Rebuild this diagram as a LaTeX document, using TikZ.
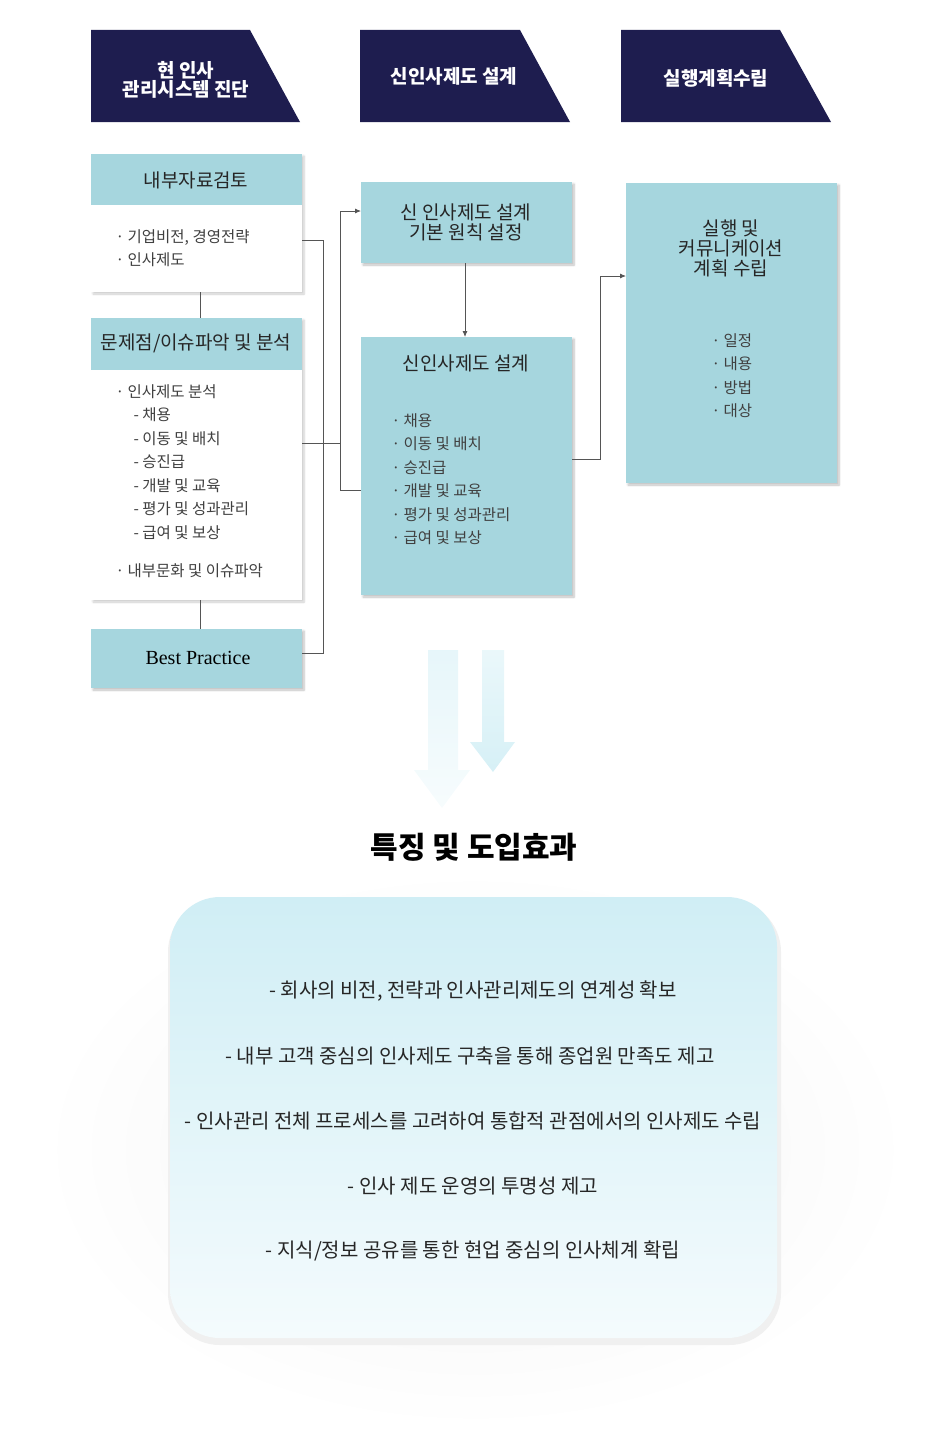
\documentclass[tikz,border=0pt]{standalone}
\usepackage{fontspec}
\setmainfont{Noto Sans CJK KR}
\newfontfamily\latinserif{Liberation Serif}
\usetikzlibrary{shadows.blur,arrows.meta,fadings}
\definecolor{navy}{HTML}{1E1D4F}
\definecolor{teal}{HTML}{A6D6DE}
\definecolor{lineg}{HTML}{555555}
\definecolor{efftop}{HTML}{D0EEF5}
\definecolor{effbot}{HTML}{F4FBFD}
\definecolor{arrc}{HTML}{D6F0F6}
\tikzset{
 hdr/.style={fill=navy,draw=none},
 hdrtxt/.style={text=white,font=\fontsize{19}{23}\selectfont\bfseries\itshape,align=center},
 tealbox/.style={fill=teal,draw=none,blur shadow={shadow blur steps=6,shadow xshift=2pt,shadow yshift=-2pt,shadow opacity=25}},
 whitebox/.style={fill=white,draw=none,blur shadow={shadow blur steps=6,shadow xshift=2pt,shadow yshift=-2pt,shadow opacity=20}},
 ttl/.style={font=\fontsize{19}{21}\selectfont,align=center,text=black!85},
 body/.style={font=\fontsize{15.5}{23.5}\selectfont,align=left,text=black!75,anchor=north west},
 conn/.style={draw=lineg,line width=0.8pt},
 arr/.style={conn,-{Latex[length=6pt,width=5pt]}},
 eff/.style={font=\fontsize{20}{22}\selectfont,text=black!85}
}
\begin{document}
\begin{tikzpicture}[x=1pt,y=-1pt]
\useasboundingbox (0,0) rectangle (948,1429);
% headers
\fill[hdr] (91,30)--(250,30)--(300,122)--(91,122)--cycle;
\fill[hdr] (360,30)--(520,30)--(570,122)--(360,122)--cycle;
\fill[hdr] (621,30)--(780,30)--(831,122)--(621,122)--cycle;
\node[hdrtxt] (h1) at (186,80) {현 인사\\[-4pt]관리시스템 진단};
\node[hdrtxt] (h2) at (454,76) {신인사제도 설계};
\node[hdrtxt] (h3) at (716,78) {실행계획수립};
% left column
\path[whitebox] (91,154) rectangle (302,292);
\path[fill=teal] (91,154) rectangle (302,205);
\node[ttl] (t1) at (196,180) {내부자료검토};
\node[body] (b1) at (112,226) {· 기업비전, 경영전략\\· 인사제도};
\coordinate (b1r) at (302,240);
\path[whitebox] (91,318) rectangle (302,600);
\path[fill=teal] (91,318) rectangle (302,370);
\node[ttl] (t2) at (196,343) {문제점/이슈파악 및 분석};
\node[body] (b2) at (112,381) {· 인사제도 분석\\\hspace{18pt}- 채용\\\hspace{18pt}- 이동 및 배치\\\hspace{18pt}- 승진급\\\hspace{18pt}- 개발 및 교육\\\hspace{18pt}- 평가 및 성과관리\\\hspace{18pt}- 급여 및 보상};
\node[body] (b2b) at (112,560) {· 내부문화 및 이슈파악};
\path[tealbox] (91,629) rectangle (302,688);
\node[font=\latinserif\fontsize{20}{22}\selectfont] (bp) at (198,658) {Best Practice};
\coordinate (c1a) at (200,292); \coordinate (c1b) at (200,318);
\coordinate (c2a) at (200,600); \coordinate (c2b) at (200,629);
\draw[conn] (c1a)--(c1b); \draw[conn] (c2a)--(c2b);
\coordinate (b2r) at (302,443); \coordinate (bpr) at (302,653);
\draw[conn] (b1r)--(323,240)--(323,653)--(bpr);
\draw[conn] (b2r)--(340,443);
% middle
\path[tealbox] (361,182) rectangle (572,263);
\node[ttl] (ma) at (466,222) {신 인사제도 설계\\[-1pt]기본 원칙 설정};
\path[tealbox] (361,337) rectangle (572,595);
\node[ttl] (mb) at (466,363) {신인사제도 설계};
\node[body] (mbb) at (388,410) {· 채용\\· 이동 및 배치\\· 승진급\\· 개발 및 교육\\· 평가 및 성과관리\\· 급여 및 보상};
\coordinate (mal) at (361,211); \coordinate (mbl) at (361,490);
\draw[arr] (340,443)--(340,211)--(mal);
\draw[conn] (340,443)--(340,490)--(mbl);
\coordinate (mab) at (465,263); \coordinate (mbt) at (465,337);
\draw[arr] (mab)--(mbt);
% right
\path[tealbox] (626,183) rectangle (837,483);
\node[ttl] (ra) at (731,248) {실행 및\\[-1pt]커뮤니케이션\\[-1pt]계획 수립};
\node[body] (rab) at (708,330) {· 일정\\· 내용\\· 방법\\· 대상};
\coordinate (mbr) at (572,459); \coordinate (ral) at (626,276);
\draw[arr] (mbr)--(600,459)--(600,276)--(ral);
% big arrows
\shade[top color=arrc!60,bottom color=arrc!20] (428,650)--(458,650)--(458,770)--(470,770)--(442,808)--(414,770)--(428,770)--cycle;
\shade[top color=arrc!50,bottom color=arrc] (482,650)--(504,650)--(504,742)--(515,742)--(493,772)--(470,742)--(482,742)--cycle;
% title
\node[font=\fontsize{30}{32}\selectfont\bfseries] (ttl) at (474,847) {특징 및 도입효과};
% effects box
\shade[inner color=black!5,outer color=white] (40,870) rectangle (910,1429);
\fill[black!10] (172,903) [rounded corners=50pt] rectangle (779,1343);
\fill[black!6] (168,900) [rounded corners=52pt] rectangle (781,1345);
\shade[top color=efftop,bottom color=effbot] (170,897) [rounded corners=50pt] rectangle (777,1338);
\node[eff] (e1) at (473,991) {- 회사의 비전, 전략과 인사관리제도의 연계성 확보};
\node[eff] (e2) at (470,1056) {- 내부 고객 중심의 인사제도 구축을 통해 종업원 만족도 제고};
\node[eff] (e3) at (473,1121) {- 인사관리 전체 프로세스를 고려하여 통합적 관점에서의 인사제도 수립};
\node[eff] (e4) at (473,1186) {- 인사 제도 운영의 투명성 제고};
\node[eff] (e5) at (473,1251) {- 지식/정보 공유를 통한 현업 중심의 인사체계 확립};
\end{tikzpicture}
\end{document}
